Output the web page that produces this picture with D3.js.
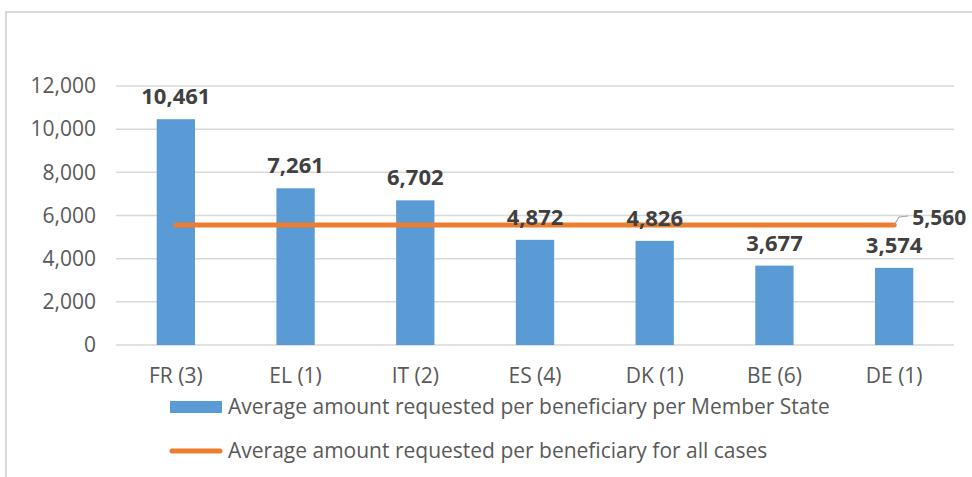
<!DOCTYPE html>
<html>
<head>
<meta charset="utf-8">
<script src="https://cdn.jsdelivr.net/npm/d3@7"></script>
<style>
  body { margin: 0; background: #fff; }
  svg text { font-family: "Open Sans", sans-serif; }
</style>
</head>
<body>
<div id="chart"></div>
<script>
// data
const categories = ["FR (3)", "EL (1)", "IT (2)", "ES (4)", "DK (1)", "BE (6)", "DE (1)"];
const amounts = [10461, 7261, 6702, 4872, 4826, 3677, 3574];
const overallAverage = 5560;
const yTicks = [0, 2000, 4000, 6000, 8000, 10000, 12000];
const legendLabels = [
  "Average amount requested per beneficiary per Member State",
  "Average amount requested per beneficiary for all cases"
];

const width = 972, height = 477;
const blue = "#5b9bd5", orange = "#ed7d31";
const fmt = d3.format(",");

const svg = d3.select("#chart").append("svg")
  .attr("width", width)
  .attr("height", height);

// outer chart frame (cropped)
svg.append("path")
  .attr("d", "M6,477 L6,12 L972,12")
  .attr("fill", "none")
  .attr("stroke", "#d9d9d9")
  .attr("stroke-width", 2);

const x = d3.scaleBand().domain(categories).range([116, 954]).paddingInner(0.68).paddingOuter(0.34);
const y = d3.scaleLinear().domain([0, 12000]).range([345, 86]);

// gridlines
svg.append("g").selectAll("line")
  .data(yTicks)
  .enter().append("line")
  .attr("x1", 116).attr("x2", 954)
  .attr("y1", d => y(d)).attr("y2", d => y(d))
  .attr("stroke", "#d9d9d9")
  .attr("stroke-width", 1.5);

// y axis labels
const yAxis = svg.append("g")
  .attr("transform", "translate(96,0)")
  .call(d3.axisLeft(y).tickValues(yTicks).tickSize(0).tickPadding(0).tickFormat(fmt));
yAxis.select(".domain").remove();
yAxis.selectAll("text")
  .attr("font-size", 21)
  .attr("fill", "#595959")
  .style("font-family", "'Open Sans', sans-serif");

// bars
svg.append("g").selectAll("rect")
  .data(amounts)
  .enter().append("rect")
  .attr("x", (d, i) => x(categories[i]))
  .attr("width", x.bandwidth())
  .attr("y", d => y(d))
  .attr("height", d => y(0) - y(d))
  .attr("fill", blue);

// x axis labels
const xAxis = svg.append("g")
  .attr("transform", "translate(0,345)")
  .call(d3.axisBottom(x).tickSize(0).tickPadding(23));
xAxis.select(".domain").remove();
xAxis.selectAll("text")
  .attr("font-size", 21)
  .attr("fill", "#595959")
  .style("font-family", "'Open Sans', sans-serif");

// average line
const first = categories[0], last = categories[categories.length - 1];
const lineX1 = x(first) + x.bandwidth() / 2, lineX2 = x(last) + x.bandwidth() / 2;
svg.append("line")
  .attr("x1", lineX1).attr("x2", lineX2)
  .attr("y1", y(overallAverage)).attr("y2", y(overallAverage))
  .attr("stroke", orange)
  .attr("stroke-width", 5)
  .attr("stroke-linecap", "round");

// bar value labels
svg.append("g").selectAll("text")
  .data(amounts)
  .enter().append("text")
  .attr("x", (d, i) => x(categories[i]) + x.bandwidth() / 2)
  .attr("y", d => y(d) - 15)
  .attr("text-anchor", "middle")
  .attr("font-size", 22)
  .attr("font-weight", "bold")
  .attr("fill", "#404040")
  .text(d => fmt(d));

// average label with leader line
const ay = y(overallAverage);
svg.append("path")
  .attr("d", `M${lineX2},${ay} L${lineX2 + 5},${ay - 8} L${lineX2 + 14},${ay - 9}`)
  .attr("fill", "none")
  .attr("stroke", "#a6a6a6")
  .attr("stroke-width", 1.2);
svg.append("text")
  .attr("x", lineX2 + 18)
  .attr("y", ay)
  .attr("font-size", 21)
  .attr("font-weight", "bold")
  .attr("fill", "#404040")
  .text(fmt(overallAverage));

// legend
const legend = svg.append("g");
legend.append("rect")
  .attr("x", 170).attr("y", 401)
  .attr("width", 52).attr("height", 12)
  .attr("fill", blue);
legend.append("line")
  .attr("x1", 172).attr("x2", 220)
  .attr("y1", 451).attr("y2", 451)
  .attr("stroke", orange)
  .attr("stroke-width", 5)
  .attr("stroke-linecap", "round");
legend.selectAll("text.leg")
  .data(legendLabels)
  .enter().append("text")
  .attr("class", "leg")
  .attr("x", 228)
  .attr("y", (d, i) => 414 + i * 44)
  .attr("font-size", 21)
  .attr("fill", "#595959")
  .text(d => d);
</script>
</body>
</html>
